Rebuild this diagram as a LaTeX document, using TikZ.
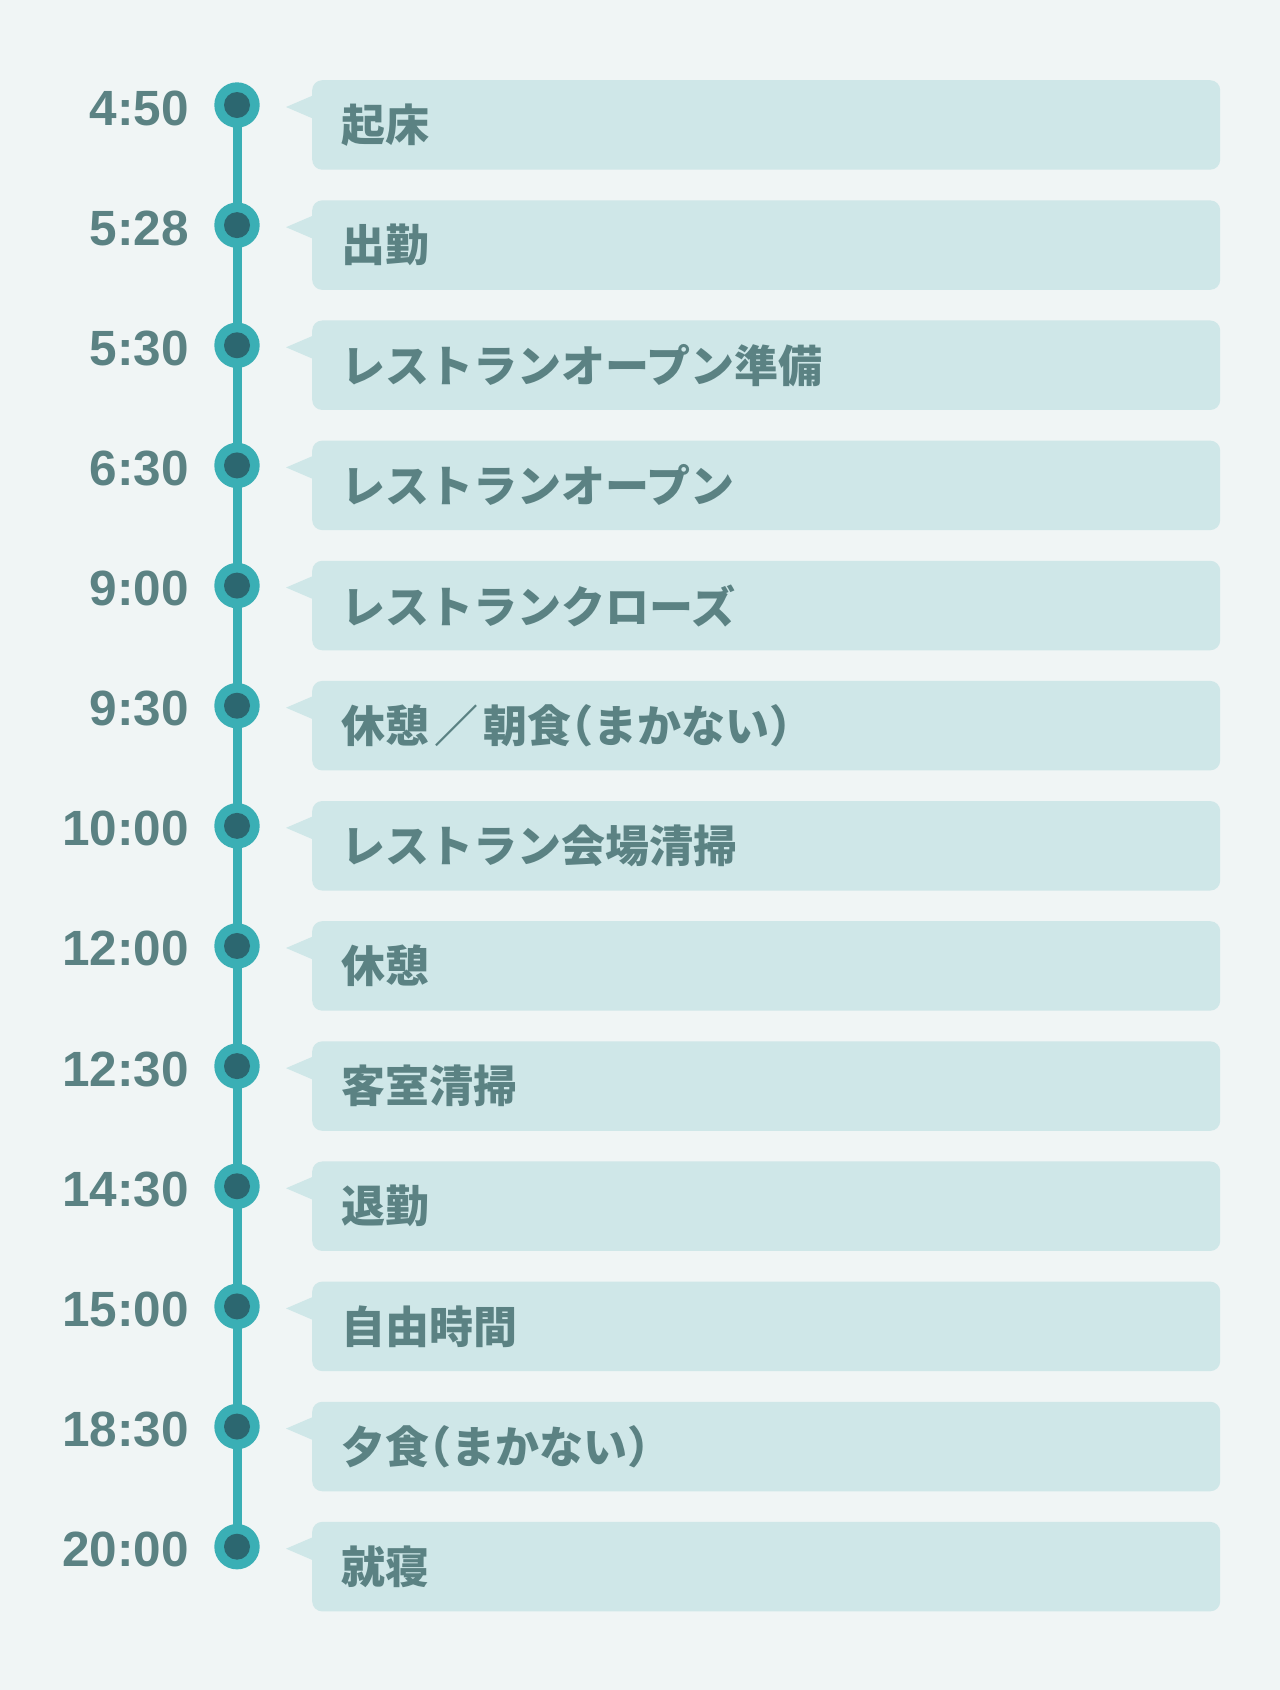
\documentclass[tikz,border=0pt]{standalone}
\usepackage{fontspec}
\setmainfont{Liberation Sans}
\newfontfamily\jpfont{Noto Sans CJK JP}
\usetikzlibrary{positioning}

\definecolor{pagebg}{HTML}{F0F5F5}
\definecolor{boxfill}{HTML}{CFE7E8}
\definecolor{ringteal}{HTML}{3AAFB5}
\definecolor{dotcore}{HTML}{2C6770}
\definecolor{labelgray}{HTML}{5B8283}

\tikzset{
  dot/.style={circle,fill=ringteal,minimum size=45.4pt,inner sep=0pt,
    path picture={\fill[dotcore] (path picture bounding box.center) circle (13pt);}},
  timelabel/.style={anchor=base east,inner sep=0pt,text=labelgray,
    font=\fontsize{49.5}{49.5}\selectfont\bfseries},
  taskbox/.style={anchor=north west,fill=boxfill,rounded corners=10pt,
    minimum height=89.5pt,text width=850pt,inner xsep=29pt,inner ysep=0pt,
    text=labelgray,font=\jpfont\fontsize{44}{44}\selectfont\bfseries},
}

\begin{document}
\begin{tikzpicture}[x=1pt,y=-1pt]
% page
\fill[pagebg] (0,0) rectangle (1280,1690);
\useasboundingbox (0,0) rectangle (1280,1690);

% time line
\coordinate (first) at (237,105);
\coordinate (last) at (237,1546.7);
\draw[ringteal,line width=9pt] (first) -- (last);

% schedule rows
\foreach \tm/\job [count=\i] in {
  4:50/起床,
  5:28/出勤,
  5:30/レストランオープン準備,
  6:30/レストランオープン,
  9:00/レストランクローズ,
  9:30/{休憩\kern5pt／\kern5pt朝食\kern-.5em（まかない）},
  10:00/レストラン会場清掃,
  12:00/休憩,
  12:30/客室清掃,
  14:30/退勤,
  15:00/自由時間,
  18:30/夕食\kern-.5em（まかない）,
  20:00/就寝}
{
  \pgfmathsetmacro\y{105+(\i-1)*120.14}
  \node[dot] (dot\i) at (237,\y) {};
  \node[timelabel] (time\i) at (189,\y+20) {\tm};
  \fill[boxfill] (286,\y+2) -- (314,\y-10) -- (314,\y+14) -- cycle;
  \node[taskbox] (task\i) at (312,\y-25) {\job};
}
\end{tikzpicture}
\end{document}
